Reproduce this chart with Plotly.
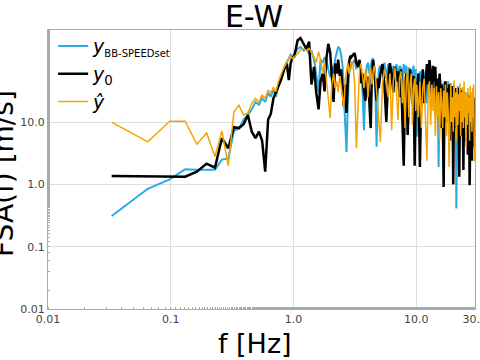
import plotly.graph_objects as go
import math

# ---------------- data ----------------
FREQ_LO = [0.033,0.065,0.098,0.131,0.163,0.196,0.229,0.261,0.294,0.327,0.359,0.392,0.425,0.457,0.490,
           0.523,0.555,0.588,0.621,0.653,0.686,0.719,0.751,0.784,0.817,0.849,0.882,0.915,0.947,0.980,1.013]
FREQ_A = [1.08,1.14,1.21,1.27,1.34,1.40,1.47,1.53,1.60,1.66,1.73,1.79,1.86,1.92,1.99,
          2.05,2.12,2.18,2.25,2.31,2.38,2.44,2.51,2.57,2.64,2.70,2.77,2.83,2.90,2.96]
FREQ_B1 = [3.05,3.15,3.25,3.35,3.45,3.55,3.65,3.75,3.85,3.95,4.05,4.15,4.25,4.35,4.45,4.55,4.65,4.75,4.85,4.95]
FREQ_B2 = [5.1,5.3,5.5,5.7,5.9,6.1,6.3,6.5,6.7,6.9,7.1,7.3,7.5,7.7,7.9,8.1,8.3,8.5,8.7,8.9,9.1,9.3,9.5,9.7,9.9]
FREQ_C = [10.1,10.4,10.7,11.0,11.3,11.6,11.9,12.2,12.5,12.8,13.1,13.4,13.7,14.0,14.3,14.6,14.9,15.2,15.5,15.8,
          16.1,16.4,16.7,17.0,17.3,17.6,17.9,18.2,18.5,18.8,19.1,19.4,19.7,20.0,20.3,20.6,20.9,21.2,21.5,21.8,
          22.1,22.4,22.7,23.0,23.3,23.6,23.9,24.2,24.5,24.8,25.1,25.4,25.7,26.0,26.3,26.6,26.9,27.2,27.5,27.8,
          28.1,28.4,28.7,29.0,29.3,29.6,29.9]

# y_BB-SPEEDset (blue)
BLU_LO = [0.31,0.85,1.2,1.75,1.72,1.7,1.72,2.5,2.6,7.2,7.8,11,13,16,21,19,24,21,29,25.5,32.7,25.5,39,53,63,77,92,104,120,112,125]
BLU_A = [150,160,140,150,125,140,100,60,30,100,90,110,95,70,53,80,60,100,130,162,150,120,80,30,8,3.3,20,60,70,85]
BLU_B1 = [90,100,70,95,80,60,30,7.4,40,80,90,60,75,100,105,70,25,4,30,70]
BLU_B2 = [80,60,90,50,85,70,40,80,65,85,50,80,75,40,85,60,80,35,75,70,30,65,80,40,70]
BLU_C = [5.8,50,65,30,60,45,65,20,55,60, 35,58,25,50,55,20,45,1.9,40,48, 15,42,30,45,10,40,28,45,12,38,
         42,8,35,25,40,10,35,0.41,30,38, 12,32,20,35,9,30,25,33,6,28, 30,10,27,18,30,5,25,22,28,7,
         24,18,26,6,22,25,10]

# y_0 (black)
BLK_LO = [1.36,1.36,1.36,1.33,1.6,2.15,1.85,5.5,3.8,8.3,8.0,9.2,13,7.0,5.5,7.0,5.0,1.6,11,13.5,24,31,37,45,60,75,87,47,87,110,112]
BLK_A = [205,222,180,150,195,40,77,30,16,45,60,31,112,180,130,45,21,87,60,100,55,70,30,18,40,14,50,90,115,110]
BLK_B1 = [120,127,90,77,100,42,60,30,22,45,53,20,8,60,99,70,40,22,50,35]
BLK_B2 = [60,85,40,10,50,88,60,30,77,45,65,25,70,15,2.0,40,60,6.2,30,70,50,20,55,2.0,25]
BLK_C = [30,60,1.9,35,70,20,55,85,40,99, 60,25,80,45,77,15,50,30,60,8, 40,20,0.91,30,45,10,35,20,40,5,
         30,15,38,1.0,25,35,8,30,12,35, 18,1.33,25,32,6,28,15,1.7,22,30, 5,25,12,28,3,20,26,0.97,18,25,
         8,2.4,20,12,24,4,15]

# y_hat (orange)
ORG_LO = [10,4.8,10.3,10.3,4.4,6.7,2.8,7.2,2.0,14.6,18.7,13,14,20,24,21,27,24,32.7,29,36,30.7,44,57,68,79,90,100,115,105,112]
ORG_A = [125,145,150,140,152,130,110,90,135,100,60,95,45,20,11.6,40,60,35,45,30,55,40,25,16.6,50,70,90,60,80,95]
ORG_B1 = [87,40,3.8,20,70,87,60,35,70,50,25,60,75,40,65,80,55,30,15,8]
ORG_B2 = [4.8,40,70,55,25,60,7.4,45,75,30,10.8,50,65,20,55,8,45,70,12,40,60,9,35,50,15]
ORG_C = [40,12,45,8,35,50,10,2.4,30,45, 9,40,15,35,6,38,12,30,5,35, 20,8,32,12,40,6,30,14,1.9,28,
         40,10,25,7,47,12,30,5,35,9, 28,15,42,6,30,10,36,8,45,12, 30,4,28,9,35,14,25,5,38,10,
         30,7,35,12,40,6,2.3]

X_TICKS = [0.01, 0.1, 1, 10, 30]
X_TICKTEXT = ["0.01", "0.1", "1.0", "10.0", "30.0"]
Y_TICKS = [0.01, 0.1, 1, 10]
Y_TICKTEXT = ["0.01", "0.1", "1.0", "10.0"]

freq = FREQ_LO + FREQ_A + FREQ_B1 + FREQ_B2 + FREQ_C
blue = BLU_LO + BLU_A + BLU_B1 + BLU_B2 + BLU_C
black = BLK_LO + BLK_A + BLK_B1 + BLK_B2 + BLK_C
orange = ORG_LO + ORG_A + ORG_B1 + ORG_B2 + ORG_C

FONT = "DejaVu Sans"

fig = go.Figure()
fig.add_trace(go.Scatter(x=freq, y=blue, mode="lines", line=dict(color="#29aae2", width=2),
                         name="<i>y</i><sub><span style=\"font-size:10px\">BB-SPEEDset</span></sub>"))
fig.add_trace(go.Scatter(x=freq, y=black, mode="lines", line=dict(color="#000000", width=2.5),
                         name="<i>y</i><sub>0</sub>"))
fig.add_trace(go.Scatter(x=freq, y=orange, mode="lines", line=dict(color="#f4a400", width=1.5),
                         name="<i>ŷ</i>"))

axis_common = dict(
    type="log", showgrid=True, gridcolor="#dddddd", gridwidth=1,
    showline=True, linecolor="#aaaaaa", linewidth=1, mirror=True,
    ticks="", zeroline=False, automargin=False, ticklabeloverflow="allow",
    tickfont=dict(family=FONT, size=11, color="#444444"),
    minor=dict(ticks="inside", ticklen=2, tickcolor="#aaaaaa", showgrid=False),
)

fig.update_layout(
    width=480, height=360,
    margin=dict(l=48, r=5, t=30, b=51, autoexpand=False),
    paper_bgcolor="white", plot_bgcolor="white",
    font=dict(family=FONT, color="black"),
    title=dict(text="E-W", x=254/480, xanchor="center", y=1-16/360, yanchor="middle",
               font=dict(family=FONT, size=30, color="black"), automargin=False),
    xaxis=dict(axis_common, range=[-2, math.log10(30.08)], tickvals=X_TICKS, ticktext=X_TICKTEXT),
    yaxis=dict(axis_common, range=[-2, math.log10(300)], tickvals=Y_TICKS, ticktext=Y_TICKTEXT),
    legend=dict(x=0.012, y=1.01, xanchor="left", yanchor="top", bgcolor="rgba(0,0,0,0)",
                font=dict(family=FONT, size=19, color="black"), tracegroupgap=0),
    showlegend=True,
)

fig.add_annotation(text="f [Hz]", xref="paper", yref="paper", x=(255-48)/427, y=(309-343)/279,
                   xanchor="center", yanchor="middle", showarrow=False,
                   font=dict(family=FONT, size=27, color="black"))
fig.add_annotation(text="FSA(f) [m/s]", xref="paper", yref="paper", x=(3-48)/427, y=(309-174)/279,
                   xanchor="center", yanchor="middle", textangle=-90, showarrow=False,
                   font=dict(family=FONT, size=28, color="black"))

fig.write_html("out.html", config={"displayModeBar": False},
               post_script="document.body.style.margin='0';document.body.style.overflow='hidden';")
